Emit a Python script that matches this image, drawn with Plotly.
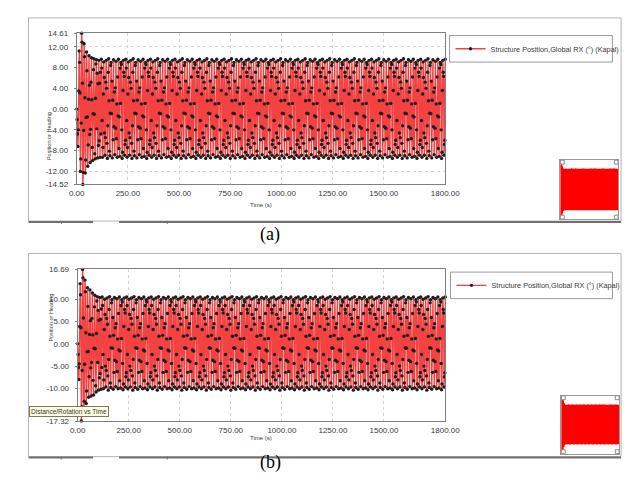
import plotly.graph_objects as go

W, H = 630, 487

# ---------------- data ----------------
series_name = "Structure Position,Global RX (°) (Kapal)"
time_s = list(range(0, 1801, 2))

# Each 12 s roll cycle is logged as six samples:
# [positive peak, down 1, down 2, negative peak, up 1, up 2]
# (a) start-up transient, first 120 s (10 cycles)
a_tr_top = [0.0, 11.2, 14.61, 12.6, 11.0, 10.3, 9.9, 9.7, 9.5, 9.4]
a_tr_d1 = [-2.0, 9.0, 12.9, 10.1, 7.4, 4.6, 1.8, -1.0, -3.8, -6.1]
a_tr_d2 = [-4.8, 3.1, 5.0, 2.2, -1.5, -4.9, -7.4, -8.6, 6.9, 5.0]
a_tr_bot = [-7.2, -12.0, -14.52, -12.3, -11.0, -10.3, -9.9, -9.6, -9.4, -9.3]
a_tr_u1 = [-4.0, -9.6, -12.2, -9.8, -6.9, -3.9, -0.9, 2.1, 4.9, 7.1]
a_tr_u2 = [3.5, -2.7, -4.1, -1.6, 1.9, 5.2, 7.6, 8.7, -7.0, -4.8]
# (a) steady state, one 120 s beat (10 cycles)
a_st_top = [9.6, 9.1, 9.4, 9.7, 9.0, 9.5, 9.2, 9.6, 9.0, 9.4]
a_st_d1 = [7.9, 6.1, 4.0, 1.6, -0.9, -3.4, -5.7, -7.6, 8.6, 7.1]
a_st_d2 = [-2.2, -4.6, -6.6, -8.1, 5.4, 3.3, 1.0, -1.5, -4.0, 6.3]
a_st_bot = [-9.3, -8.9, -9.5, -9.0, -9.4, -8.8, -9.3, -9.1, -9.5, -8.9]
a_st_u1 = [-7.4, -5.5, -3.2, -0.8, 1.7, 4.1, 6.2, 7.9, -8.3, -6.8]
a_st_u2 = [2.9, 5.2, 7.1, 8.4, -5.9, -3.7, -1.3, 1.1, 3.6, -6.0]

# (b) start-up transient, first 120 s (10 cycles)
b_tr_top = [0.0, 13.5, 16.69, 14.3, 12.6, 12.1, 11.4, 10.9, 10.6, 10.4]
b_tr_d1 = [-2.4, 11.0, 14.8, 11.7, 8.4, 5.2, 2.0, -1.1, -4.2, -6.7]
b_tr_d2 = [-5.3, 3.6, 5.8, 2.5, -1.7, -5.4, -8.2, -9.4, 7.5, 5.5]
b_tr_bot = [-8.0, -17.32, -15.6, -13.4, -12.0, -11.7, -11.5, -10.8, -10.4, -10.2]
b_tr_u1 = [-4.5, -14.1, -12.9, -10.6, -7.4, -4.2, -1.0, 2.3, 5.3, 7.8]
b_tr_u2 = [3.9, -6.0, -4.6, -1.8, 2.1, 5.7, 8.3, 9.6, -7.6, -5.3]
# (b) steady state, one 120 s beat (10 cycles)
b_st_top = [10.5, 10.0, 10.3, 10.6, 9.9, 10.4, 10.1, 10.5, 9.9, 10.3]
b_st_d1 = [8.6, 6.6, 4.4, 1.7, -1.0, -3.7, -6.2, -8.3, 9.4, 7.7]
b_st_d2 = [-2.4, -5.0, -7.2, -8.8, 5.9, 3.6, 1.1, -1.6, -4.4, 6.9]
b_st_bot = [-10.1, -9.7, -10.4, -9.8, -10.2, -9.6, -10.1, -9.9, -10.3, -9.7]
b_st_u1 = [-8.1, -6.0, -3.5, -0.9, 1.9, 4.5, 6.8, 8.6, -9.0, -7.4]
b_st_u2 = [3.2, 5.7, 7.7, 9.2, -6.4, -4.0, -1.4, 1.2, 3.9, -6.5]

n_beats = 14  # steady beats after the transient, up to 1800 s

x_ticks = [0, 250, 500, 750, 1000, 1250, 1500, 1800]
y_ticks_a_inner = [12, 8, 4, 0, -4, -8, -12]
y_ticks_b_inner = [10, 5, 0, -5, -10]


def interleave(*cols):
    out = []
    for v in zip(*cols):
        out.extend(v)
    return out


a_tr = interleave(a_tr_top, a_tr_d1, a_tr_d2, a_tr_bot, a_tr_u1, a_tr_u2)
a_st = interleave(a_st_top, a_st_d1, a_st_d2, a_st_bot, a_st_u1, a_st_u2)
b_tr = interleave(b_tr_top, b_tr_d1, b_tr_d2, b_tr_bot, b_tr_u1, b_tr_u2)
b_st = interleave(b_st_top, b_st_d1, b_st_d2, b_st_bot, b_st_u1, b_st_u2)
rx_a = a_tr + a_st * n_beats + a_st[:1]
rx_b = b_tr + b_st * n_beats + b_st[:1]

# ---------------- helpers ----------------
def px(x):
    return x / W

def py(y):
    return 1 - y / H

RED = "rgb(244,66,66)"
GRID = "#d4d4d4"
AXC = "#808080"
TXT = "#3a3a3a"
FONT = "Liberation Sans, Arial, sans-serif"

fig = go.Figure()

for rx, xa, ya, lg in [(rx_a, "x", "y", "legend"), (rx_b, "x2", "y2", "legend2")]:
    fig.add_trace(go.Scatter(
        x=time_s, y=rx, xaxis=xa, yaxis=ya, mode="lines+markers",
        name=series_name, legend=lg, cliponaxis=False,
        line=dict(color=RED, width=1.4),
        marker=dict(color="#1e1e1e", size=3.4, line=dict(width=0)),
    ))

for rx, xa, ya in [(rx_a, "x3", "y3"), (rx_b, "x4", "y4")]:
    fig.add_trace(go.Scatter(
        x=time_s, y=rx, xaxis=xa, yaxis=ya, mode="lines", showlegend=False,
        line=dict(color="rgb(255,0,0)", width=2), hoverinfo="skip",
    ))

def xaxis_cfg(dom, anchor):
    return dict(domain=dom, anchor=anchor, range=[0, 1800],
                tickmode="array", tickvals=x_ticks,
                ticktext=[f"{v:.2f}" for v in x_ticks],
                tickfont=dict(family=FONT, size=8, color=TXT),
                showgrid=True, gridcolor=GRID, griddash="dot", gridwidth=1,
                showline=True, mirror=True, linecolor=AXC, linewidth=1,
                zeroline=False, ticks="", ticklabelstandoff=1)

def yaxis_cfg(dom, anchor, data, inner):
    vals = [max(data)] + inner + [min(data)]
    return dict(domain=dom, anchor=anchor, range=[min(data), max(data)],
                tickmode="array", tickvals=vals,
                ticktext=[f"{v:.2f}" for v in vals],
                tickfont=dict(family=FONT, size=8, color=TXT),
                showgrid=True, gridcolor=GRID, griddash="dot", gridwidth=1,
                showline=True, mirror=True, linecolor=AXC, linewidth=1,
                zeroline=False, ticks="outside", ticklen=2, tickcolor=AXC,
                ticklabelstandoff=4)

def mini_axis(dom, anchor, rng):
    return dict(domain=dom, anchor=anchor, range=rng, showticklabels=False,
                showgrid=False, zeroline=False, showline=True, mirror=True,
                linecolor="#9a9a9a", linewidth=1, ticks="")

fig.update_layout(
    width=W, height=H, autosize=False,
    margin=dict(l=0, r=0, t=0, b=0),
    paper_bgcolor="white", plot_bgcolor="white",
    xaxis=xaxis_cfg([px(63), px(445.5)], "y"),
    yaxis=yaxis_cfg([py(175.7), py(21.7)], "x", rx_a, y_ticks_a_inner),
    xaxis2=xaxis_cfg([px(64), px(445.5)], "y2"),
    yaxis2=yaxis_cfg([py(416.7), py(262.3)], "x2", rx_b, y_ticks_b_inner),
    xaxis3=mini_axis([px(565), px(625)], "y3", [0, 1800]),
    yaxis3=mini_axis([py(211), py(151)], "x3", [-13.6, 13.6]),
    xaxis4=mini_axis([px(566), px(626)], "y4", [0, 1800]),
    yaxis4=mini_axis([py(450), py(391)], "x4", [-15.3, 15.3]),
    legend=dict(x=px(451), y=py(37.5), xanchor="left", yanchor="middle",
                bgcolor="rgba(0,0,0,0)", borderwidth=0,
                font=dict(family=FONT, size=7.3, color=TXT)),
    legend2=dict(x=px(452), y=py(278.5), xanchor="left", yanchor="middle",
                 bgcolor="rgba(0,0,0,0)", borderwidth=0,
                 font=dict(family=FONT, size=7.3, color=TXT)),
    showlegend=True,
)

shapes = []
def rect(x0, y0, x1, y1, color, width=1, fill=None):
    d = dict(type="rect", xref="paper", yref="paper",
             x0=px(x0), x1=px(x1), y0=py(y1), y1=py(y0),
             line=dict(color=color, width=width), layer="above")
    if fill:
        d["fillcolor"] = fill
    shapes.append(d)

def line(x0, y0, x1, y1, color, width=1):
    shapes.append(dict(type="line", xref="paper", yref="paper",
                       x0=px(x0), x1=px(x1), y0=py(y0), y1=py(y1),
                       line=dict(color=color, width=width), layer="above"))

# window frames
rect(13, 6, 628, 213, "#b4b4b4")
rect(13, 246, 628, 453, "#b4b4b4")
# legend boxes
rect(450, 24, 619, 51, "#9a9a9a")
rect(451, 265, 619, 292, "#9a9a9a")
# bottom tab strips
for yb in (213, 453):
    line(13, yb + 1, 80, yb + 1, "#707070", 2)
    line(107, yb + 1, 628, yb + 1, "#707070", 2)
    line(47, yb, 47, yb + 3, "#707070", 1)
    line(157, yb, 157, yb + 3, "#707070", 1)
# overview handles
for (x0, y0, x1, y1) in [(565, 151, 625, 211), (566, 391, 626, 450)]:
    for (cx, cy) in [(x0 + 2, y0 + 2), (x1 - 2, y0 + 2), (x0 + 2, y1 - 2), (x1 - 2, y1 - 2)]:
        rect(cx - 2, cy - 2, cx + 2, cy + 2, "#8a8a8a", 1, "white")
fig.update_layout(shapes=shapes)

ann = []
def text(x, y, s, size, angle=0, family=FONT, color=TXT, **kw):
    ann.append(dict(x=px(x), y=py(y), xref="paper", yref="paper", text=s,
                    showarrow=False, textangle=angle,
                    font=dict(family=family, size=size, color=color), **kw))

text(254, 197, "Time (s)", 6)
text(254, 439, "Time (s)", 6)
text(29, 100, "Position or Heading", 5.5, angle=-90)
text(31, 338, "Position or Heading", 5.5, angle=-90)
text(264, 227, "(a)", 18, family="Liberation Serif, Times New Roman, serif", color="black")
text(264, 472, "(b)", 18, family="Liberation Serif, Times New Roman, serif", color="black")
ann.append(dict(x=px(13), y=py(401), xref="paper", yref="paper",
                xanchor="left", yanchor="top", showarrow=False,
                text="Distance/Rotation vs Time", bgcolor="#ffffe1",
                bordercolor="#7a7a5a", borderwidth=1, borderpad=1,
                font=dict(family=FONT, size=6.5, color="#333333")))
fig.update_layout(annotations=ann)

fig.write_html("out.html")
